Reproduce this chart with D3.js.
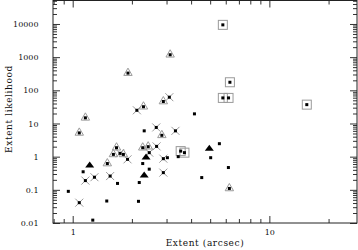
<!DOCTYPE html>
<html><head><meta charset="utf-8">
<script src="https://cdn.jsdelivr.net/npm/d3@7"></script>
<style>body{margin:0;background:#fff}</style>
</head><body>
<svg id="c" width="358" height="250"></svg>
<script>
// Boxed sources
const boxX = [5.8, 6.3, 5.8, 6.2, 15.5, 3.54, 3.7];
const boxY = [9400, 175, 59, 59, 37, 1.47, 1.32];
// Open triangles
const triX = [3.13, 1.91, 2.29, 2.89, 1.16, 1.08, 2.84, 2.27, 2.42, 1.67, 1.61, 1.81, 1.50, 6.26];
const triY = [1180, 330, 32, 46, 14.8, 5.2, 4.4, 1.86, 2.0, 1.86, 1.17, 1.17, 0.62, 0.11];
// Crossed sources
const crossX = [2.12, 3.10, 2.66, 3.33, 2.67, 2.45, 1.74, 1.90, 2.89, 2.89, 1.16, 1.29, 1.55, 1.08];
const crossY = [25, 62, 7.6, 6.0, 2.04, 1.32, 1.26, 0.83, 0.87, 0.33, 0.19, 0.24, 0.26, 0.041];
// Filled triangles
const fillX = [1.22, 2.36, 2.31, 4.95];
const fillY = [0.54, 0.95, 0.27, 1.74];
// Plain sources
const dotX = [4.16, 2.31, 2.27, 2.45, 2.18, 2.16, 3.03, 3.44, 5.57, 5.03, 6.19, 4.53, 1.13, 1.69, 0.95, 1.49, 1.265];
const dotY = [19.5, 6.0, 0.62, 0.42, 0.166, 0.045, 0.93, 1.0, 2.46, 0.93, 0.47, 0.234, 0.35, 0.156, 0.09, 0.046, 0.0122];

const xMajor = [1, 10];
const yMajor = [0.01, 0.1, 1, 10, 100, 1000, 10000];
const yLabels = ["0.01", "0.1", "1", "10", "100", "1000", "10000"];
const xLabels = ["1", "10"];
const xTitle = "Extent (arcsec)";
const yTitle = "Extent likelihood";

const L = 53, R = 357, T = 0.5, B = 223;
const x = d3.scaleLog().domain([0.794, 27.9]).range([L, R]);
const y = d3.scaleLog().domain([0.01, 51000]).range([B, T]);

const svg = d3.select("#c");
const font = "'DejaVu Serif', serif";

function minors(lo, hi) {
  const out = [];
  for (let e = Math.floor(Math.log10(lo)); e <= Math.ceil(Math.log10(hi)); e++) {
    for (let m = 2; m <= 9; m++) {
      const v = m * Math.pow(10, e);
      if (v > lo && v < hi) out.push(v);
    }
  }
  return out;
}
const xMinor = minors(0.794, 27.9);
const yMinor = minors(0.01, 51000);

function styleAxis(g) {
  g.select(".domain").remove();
  g.selectAll("line").attr("stroke", "#333").attr("stroke-width", 1);
  g.selectAll("text").attr("font-family", font).attr("font-size", "8px").attr("fill", "#111");
}

// bottom
svg.append("g").attr("transform", `translate(0,${B})`)
  .call(d3.axisBottom(x).tickValues(xMinor).tickSize(-4).tickFormat(""))
  .call(styleAxis);
svg.append("g").attr("transform", `translate(0,${B})`)
  .call(d3.axisBottom(x).tickValues(xMajor).tickSize(-7).tickPadding(6).tickFormat((d, i) => xLabels[i]))
  .call(styleAxis);
// top
svg.append("g").attr("transform", `translate(0,${T})`)
  .call(d3.axisTop(x).tickValues(xMinor).tickSize(-4).tickFormat(""))
  .call(styleAxis);
svg.append("g").attr("transform", `translate(0,${T})`)
  .call(d3.axisTop(x).tickValues(xMajor).tickSize(-7).tickFormat(""))
  .call(styleAxis);
// left
svg.append("g").attr("transform", `translate(${L},0)`)
  .call(d3.axisLeft(y).tickValues(yMinor).tickSize(-4).tickFormat(""))
  .call(styleAxis);
svg.append("g").attr("transform", `translate(${L},0)`)
  .call(d3.axisLeft(y).tickValues(yMajor).tickSize(-7).tickPadding(14.5).tickFormat((d, i) => yLabels[i]))
  .call(styleAxis);
// right
svg.append("g").attr("transform", `translate(${R},0)`)
  .call(d3.axisRight(y).tickValues(yMinor).tickSize(-4).tickFormat(""))
  .call(styleAxis);
svg.append("g").attr("transform", `translate(${R},0)`)
  .call(d3.axisRight(y).tickValues(yMajor).tickSize(-7).tickFormat(""))
  .call(styleAxis);

// frame
svg.append("rect").attr("x", L).attr("y", T).attr("width", R - L).attr("height", B - T)
  .attr("fill", "none").attr("stroke", "#222").attr("stroke-width", 1);

const grey = "#9a9a9a";
const pts = (xs, ys) => xs.map((v, i) => [x(v), y(ys[i])]);

// boxes
svg.append("g").selectAll("rect").data(pts(boxX, boxY)).join("rect")
  .attr("x", d => d[0] - 4.5).attr("y", d => d[1] - 4.5).attr("width", 9).attr("height", 9)
  .attr("fill", "none").attr("stroke", grey).attr("stroke-width", 1);
// open triangles
svg.append("g").selectAll("path").data(pts(triX, triY)).join("path")
  .attr("d", d => `M${d[0]},${d[1] - 5}L${d[0] + 4.2},${d[1] + 2.3}L${d[0] - 4.2},${d[1] + 2.3}Z`)
  .attr("fill", "none").attr("stroke", grey).attr("stroke-width", 1);
// crosses
svg.append("g").selectAll("path").data(pts(crossX, crossY)).join("path")
  .attr("d", d => `M${d[0] - 4},${d[1] - 4}L${d[0] + 4},${d[1] + 4}M${d[0] - 4},${d[1] + 4}L${d[0] + 4},${d[1] - 4}`)
  .attr("fill", "none").attr("stroke", grey).attr("stroke-width", 1);
// filled triangles
svg.append("g").selectAll("path").data(pts(fillX, fillY)).join("path")
  .attr("d", d => `M${d[0]},${d[1] - 4}L${d[0] + 4.5},${d[1] + 2}L${d[0] - 4.5},${d[1] + 2}Z`)
  .attr("fill", "#000");
// dots for all open-marker sources and plain sources
const allDots = [].concat(pts(boxX, boxY), pts(triX, triY), pts(crossX, crossY), pts(dotX, dotY));
svg.append("g").selectAll("rect").data(allDots).join("rect")
  .attr("x", d => d[0] - 1.5).attr("y", d => d[1] - 1.5).attr("width", 3).attr("height", 3)
  .attr("fill", "#000");

// titles
svg.append("text").attr("x", 205).attr("y", 246).attr("text-anchor", "middle")
  .attr("font-family", font).attr("font-size", "9px").attr("letter-spacing", "0.6px").attr("fill", "#111")
  .text(xTitle);
svg.append("text").attr("transform", "translate(12,109) rotate(-90)").attr("text-anchor", "middle")
  .attr("font-family", font).attr("font-size", "9px").attr("letter-spacing", "0.6px").attr("fill", "#111")
  .text(yTitle);
</script>
</body></html>
